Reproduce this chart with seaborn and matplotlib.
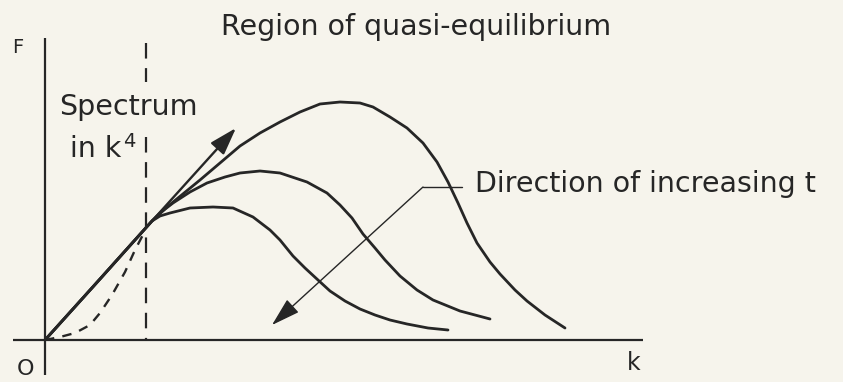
import matplotlib
matplotlib.use("Agg")
import matplotlib.pyplot as plt
import pandas as pd
import seaborn as sns

# Schematic energy spectrum F(k) at three successive times.
# Each curve shares the low-k straight part up to the k^4 marker.
top_k = [0.00, 0.55, 1.07, 1.22, 1.55, 1.75, 1.95, 2.15, 2.35, 2.55, 2.75, 2.95,
         3.15, 3.28, 3.45, 3.62, 3.78, 3.92, 4.03, 4.13, 4.22, 4.32, 4.45, 4.55,
         4.70, 4.82, 5.00, 5.20]
top_F = [0.00, 0.61, 1.19, 1.33, 1.60, 1.77, 1.94, 2.07, 2.18, 2.28, 2.36, 2.38,
         2.37, 2.33, 2.23, 2.12, 1.97, 1.78, 1.58, 1.37, 1.17, 0.97, 0.78, 0.66,
         0.50, 0.39, 0.25, 0.12]

mid_k = [0.00, 0.55, 1.07, 1.15, 1.28, 1.45, 1.62, 1.80, 1.95, 2.15, 2.35, 2.62,
         2.82, 2.95, 3.07, 3.18, 3.30, 3.40, 3.55, 3.72, 3.88, 4.15, 4.45]
mid_F = [0.00, 0.61, 1.19, 1.27, 1.37, 1.48, 1.57, 1.63, 1.67, 1.69, 1.67, 1.58,
         1.47, 1.35, 1.22, 1.06, 0.92, 0.80, 0.64, 0.50, 0.40, 0.29, 0.21]

low_k = [0.00, 0.55, 1.07, 1.15, 1.25, 1.45, 1.68, 1.88, 2.08, 2.25, 2.35, 2.48,
         2.60, 2.73, 2.85, 3.00, 3.15, 3.30, 3.45, 3.62, 3.83, 4.03]
low_F = [0.00, 0.61, 1.19, 1.24, 1.27, 1.32, 1.33, 1.32, 1.23, 1.10, 1.00, 0.84,
         0.72, 0.60, 0.49, 0.39, 0.31, 0.25, 0.20, 0.16, 0.12, 0.10]

# k^4 behaviour at small k
k4_k = [0.00, 0.15, 0.30, 0.45, 0.55, 0.67, 0.80, 0.90, 1.01]
k4_F = [0.00, 0.03, 0.07, 0.15, 0.27, 0.45, 0.68, 0.90, 1.11]

k_marker = 1.01
marker_upper = (2.58, 2.97)
marker_lower = (0.00, 2.03)
k_axis_end = 5.98
F_axis_end = 3.02

tangent_from = (1.07, 1.19)
tangent_to = (1.91, 2.12)
leader_k = [4.17, 3.78]
leader_F = [1.53, 1.53]
direction_to = (2.27, 0.15)

title_text = "Region of quasi-equilibrium"
direction_text = "Direction of increasing t"

ink = "#262626"
paper = "#f6f4ec"

sns.set_theme(style="white")
plt.rcParams["font.family"] = ["DejaVu Sans"]

fig = plt.figure(figsize=(8.43, 3.82), dpi=100, facecolor=paper)
ax = fig.add_axes([0, 0, 1, 1])
ax.set_facecolor(paper)
ax.set_xlim(-0.45, 7.98)
ax.set_ylim(-0.42, 3.40)
ax.set_axis_off()

# coordinate axes
ax.plot([-0.32, k_axis_end], [0, 0], color=ink, lw=1.6, solid_capstyle="butt")
ax.plot([0, 0], [-0.35, F_axis_end], color=ink, lw=1.6, solid_capstyle="butt")

# k^4 boundary marker, broken around the label
for lo, hi in (marker_upper, marker_lower):
    ax.plot([k_marker, k_marker], [hi, lo], color=ink, lw=1.6,
            dashes=(7.0, 4.3), dash_capstyle="butt")

curves = {"t1": (top_k, top_F), "t2": (mid_k, mid_F), "t3": (low_k, low_F)}
for name, (ks, Fs) in curves.items():
    df = pd.DataFrame({"k": ks, "F": Fs})
    sns.lineplot(data=df, x="k", y="F", sort=False, estimator=None,
                 color=ink, lw=2.0, ax=ax)
    ax.lines[-1].set_solid_joinstyle("round")
    ax.lines[-1].set_solid_capstyle("round")

df4 = pd.DataFrame({"k": k4_k, "F": k4_F})
sns.lineplot(data=df4, x="k", y="F", sort=False, estimator=None,
             color=ink, lw=1.7, ax=ax)
ax.lines[-1].set_dashes((4, 3.5))

# tangent direction at the junction
ax.annotate("", xy=tangent_to, xytext=tangent_from,
            arrowprops=dict(arrowstyle="-|>,head_length=1.4,head_width=0.45",
                            color=ink, lw=1.7, shrinkA=0, shrinkB=0))

# leader and arrow for the time direction
ax.plot(leader_k, leader_F, color=ink, lw=1.0)
ax.annotate("", xy=direction_to, xytext=(leader_k[1], leader_F[1]),
            arrowprops=dict(arrowstyle="-|>,head_length=1.5,head_width=0.45",
                            color=ink, lw=1.0, shrinkA=0, shrinkB=0))

fs = 20.5
ax.text(3.71, 3.05, title_text, ha="center", va="baseline", fontsize=fs, color=ink)
ax.text(4.30, 1.48, direction_text, ha="left", va="baseline", fontsize=fs, color=ink)
ax.text(0.14, 2.25, "Spectrum", ha="left", va="baseline", fontsize=fs, color=ink)
ax.text(0.25, 1.83, "in k", ha="left", va="baseline", fontsize=fs, color=ink)
ax.text(0.785, 1.93, "4", ha="left", va="baseline", fontsize=14, color=ink)
ax.text(-0.33, 2.87, "F", ha="left", va="baseline", fontsize=14, color=ink)
ax.text(-0.28, -0.35, "O", ha="left", va="baseline", fontsize=16, color=ink)
ax.text(5.82, -0.30, "k", ha="left", va="baseline", fontsize=17, color=ink)

fig.savefig("out.png", dpi=100, facecolor=paper)
